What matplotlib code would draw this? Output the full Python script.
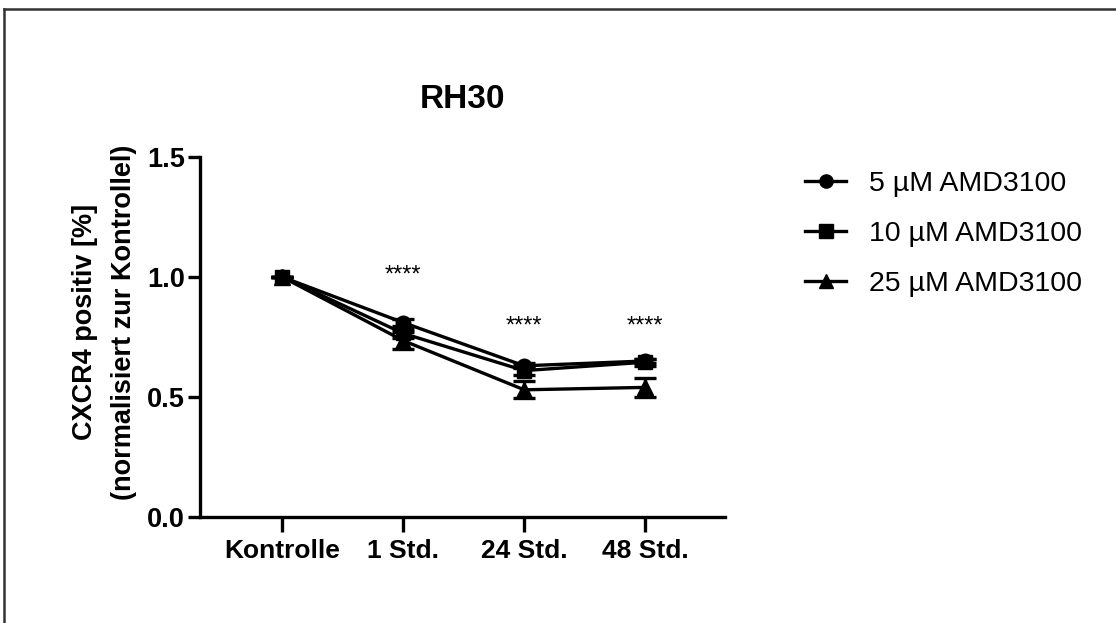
import matplotlib
matplotlib.use("Agg")
import matplotlib.pyplot as plt
from matplotlib.lines import Line2D

plt.rcParams['font.family'] = ['Liberation Sans', 'DejaVu Sans']

categories = ["Kontrolle", "1 Std.", "24 Std.", "48 Std."]
labels = ["5 µM AMD3100", "10 µM AMD3100", "25 µM AMD3100"]
markers = ["o", "s", "^"]
means_5 = [1.0, 0.81, 0.63, 0.65]
err_5 = [0.0, 0.015, 0.01, 0.01]
means_10 = [1.0, 0.765, 0.61, 0.645]
err_10 = [0.0, 0.02, 0.02, 0.015]
means_25 = [1.0, 0.735, 0.53, 0.54]
err_25 = [0.0, 0.035, 0.035, 0.04]
stars = ["", "****", "****", "****"]
star_y = [None, 1.005, 0.795, 0.795]
yticks = [0.0, 0.5, 1.0, 1.5]

W, H = 1116, 623
fig = plt.figure(figsize=(W / 100, H / 100), dpi=100)
ax = fig.add_axes([200 / W, 1 - 517 / H, 525 / W, 360 / H])

x = list(range(len(categories)))
series = [(means_5, err_5, 0, 3), (means_25, err_25, 2, 4), (means_10, err_10, 1, 5)]
handles = {}
for m, e, idx, z in series:
    ms = 10.5 if markers[idx] == "o" else (10.5 if markers[idx] == "s" else 11.5)
    ax.errorbar(x, m, yerr=e, color="black", lw=2.4, marker=markers[idx],
                ms=ms, capsize=8, capthick=2.4, elinewidth=2.4, zorder=z,
                clip_on=False)
    handles[idx] = Line2D([], [], color="black", lw=2.4, marker=markers[idx], ms=ms - 1)

for xi, s, sy in zip(x, stars, star_y):
    if s:
        ax.text(xi, sy, s, ha="center", va="center", fontsize=17)

ax.set_xlim(-0.68, 3.66)
ax.set_ylim(0, 1.5)
ax.set_yticks(yticks)
ax.set_yticklabels([f"{v:.1f}" for v in yticks])
ax.set_xticks(x)
ax.set_xticklabels(categories)
for sp in ["top", "right"]:
    ax.spines[sp].set_visible(False)
for sp in ["left", "bottom"]:
    ax.spines[sp].set_linewidth(2.4)
ax.tick_params(axis="y", length=9, width=2.4, labelsize=19.5, pad=2)
ax.tick_params(axis="x", length=11, width=2.4, labelsize=19, pad=5)
for t in ax.get_xticklabels() + ax.get_yticklabels():
    t.set_fontweight("bold")

ax.set_ylabel("CXCR4 positiv [%]\n(normalisiert zur Kontrollel)", fontsize=19.5,
              fontweight="bold", labelpad=7, linespacing=1.68)
ax.yaxis.label.set_y(0.542)
ax.set_title("RH30", fontsize=24, fontweight="bold", pad=35)

ax.legend([handles[0], handles[1], handles[2]], labels, loc="center left",
          bbox_to_anchor=(805 / W, 1 - 234 / H), bbox_transform=fig.transFigure,
          frameon=False, fontsize=20.5, handlelength=1.45, handletextpad=0.8,
          labelspacing=0.85, borderpad=0, borderaxespad=0)

# outer frame (top and left edges visible)
fig.add_artist(Line2D([4 / W, 4 / W], [0, 1 - 9 / H], transform=fig.transFigure,
                      color="#333333", lw=1.8))
fig.add_artist(Line2D([4 / W, 1], [1 - 9 / H, 1 - 9 / H], transform=fig.transFigure,
                      color="#333333", lw=1.8))

fig.savefig("out.png", dpi=100)
